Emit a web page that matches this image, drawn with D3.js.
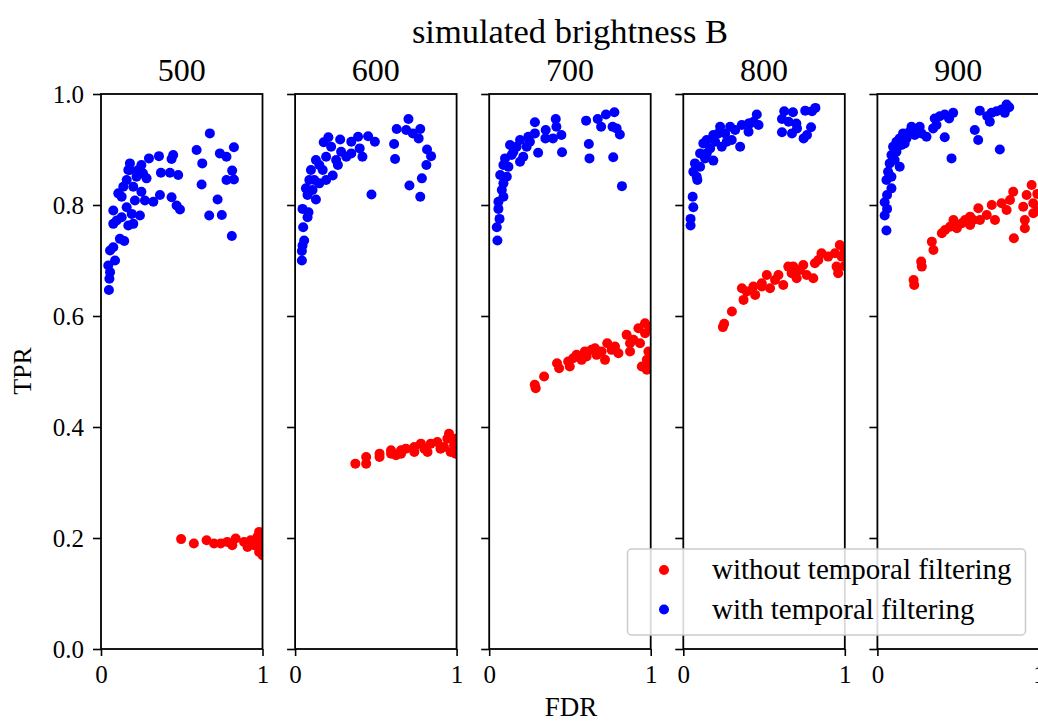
<!DOCTYPE html>
<html>
<head>
<meta charset="utf-8">
<script src="https://cdn.jsdelivr.net/npm/d3@7"></script>
<style>
  html, body { margin: 0; padding: 0; background: #fff; }
  svg { display: block; }
  text { font-family: "Palatino Linotype", "Book Antiqua", Palatino, "Liberation Serif", "DejaVu Serif", serif; fill: #000; }
</style>
</head>
<body>
<svg id="chart" width="1038" height="722"></svg>
<script>
// ---------------- DATA ----------------
const brightness = [500, 600, 700, 800, 900];
const seriesNames = ["without temporal filtering", "with temporal filtering"];
const yTicks = [0, 0.2, 0.4, 0.6, 0.8, 1.0];
const xTicks = [0, 1];

// [FDR, TPR] pairs, without temporal filtering
const without500 = [[0.496,0.198],[0.575,0.19],[0.654,0.196],[0.70,0.19],[0.741,0.19],[0.782,0.193],[0.813,0.187],[0.834,0.199],[0.886,0.193],[0.907,0.184],[0.927,0.196],[0.948,0.187],[0.96,0.193],[0.969,0.202],[0.979,0.211],[0.979,0.175],[0.99,0.193],[0.99,0.181],[1.0,0.205],[1.0,0.169]];
const without600 = [[0.373,0.334],[0.44,0.334],[0.44,0.346],[0.523,0.346],[0.523,0.352],[0.594,0.352],[0.594,0.358],[0.625,0.349],[0.656,0.358],[0.656,0.352],[0.686,0.361],[0.738,0.364],[0.738,0.355],[0.779,0.37],[0.80,0.361],[0.82,0.355],[0.84,0.37],[0.881,0.373],[0.90,0.361],[0.922,0.364],[0.943,0.379],[0.953,0.388],[0.963,0.355],[0.984,0.367],[0.994,0.352],[0.994,0.379]];
const without700 = [[0.282,0.476],[0.288,0.470],[0.34,0.491],[0.42,0.515],[0.433,0.506],[0.489,0.518],[0.499,0.509],[0.52,0.524],[0.541,0.53],[0.572,0.521],[0.592,0.536],[0.603,0.527],[0.634,0.539],[0.655,0.542],[0.665,0.53],[0.696,0.536],[0.717,0.521],[0.731,0.551],[0.758,0.539],[0.779,0.545],[0.8,0.533],[0.851,0.566],[0.872,0.551],[0.872,0.536],[0.893,0.557],[0.924,0.578],[0.934,0.551],[0.945,0.509],[0.965,0.587],[0.965,0.569],[0.976,0.503],[0.976,0.521],[0.986,0.536],[0.995,0.58],[0.998,0.51]];
const without800 = [[0.245,0.58],[0.253,0.586],[0.301,0.608],[0.363,0.65],[0.373,0.629],[0.393,0.644],[0.434,0.653],[0.445,0.638],[0.486,0.659],[0.486,0.653],[0.517,0.674],[0.537,0.65],[0.568,0.665],[0.589,0.674],[0.619,0.656],[0.65,0.689],[0.671,0.677],[0.681,0.689],[0.702,0.668],[0.723,0.683],[0.743,0.692],[0.764,0.674],[0.805,0.668],[0.815,0.695],[0.836,0.701],[0.856,0.713],[0.897,0.707],[0.939,0.713],[0.949,0.689],[0.959,0.677],[0.969,0.728],[0.98,0.707],[0.998,0.72],[0.998,0.69]];
const without900 = [[0.224,0.665],[0.228,0.656],[0.271,0.698],[0.275,0.689],[0.337,0.734],[0.347,0.719],[0.399,0.749],[0.419,0.755],[0.45,0.761],[0.471,0.773],[0.492,0.758],[0.523,0.767],[0.543,0.773],[0.574,0.779],[0.574,0.764],[0.594,0.773],[0.625,0.794],[0.635,0.773],[0.677,0.782],[0.708,0.8],[0.728,0.773],[0.769,0.803],[0.8,0.791],[0.821,0.809],[0.841,0.824],[0.845,0.74],[0.903,0.797],[0.913,0.773],[0.913,0.758],[0.924,0.818],[0.955,0.836],[0.965,0.803],[0.965,0.785],[0.99,0.82],[0.99,0.79]];

// [FDR, TPR] pairs, with temporal filtering
const with500 = [[0.674,0.929],[0.592,0.899],[0.627,0.875],[0.623,0.837],[0.736,0.893],[0.777,0.887],[0.823,0.904],[0.812,0.862],[0.823,0.846],[0.777,0.845],[0.722,0.81],[0.67,0.781],[0.748,0.782],[0.81,0.744],[0.447,0.89],[0.437,0.883],[0.359,0.888],[0.297,0.884],[0.371,0.858],[0.427,0.858],[0.478,0.854],[0.179,0.875],[0.25,0.872],[0.282,0.848],[0.22,0.851],[0.169,0.863],[0.25,0.824],[0.365,0.818],[0.437,0.814],[0.468,0.799],[0.489,0.792],[0.324,0.806],[0.272,0.808],[0.21,0.808],[0.138,0.833],[0.107,0.821],[0.076,0.79],[0.076,0.766],[0.128,0.778],[0.19,0.784],[0.241,0.781],[0.169,0.763],[0.117,0.739],[0.144,0.735],[0.076,0.724],[0.056,0.718],[0.087,0.7],[0.045,0.691],[0.056,0.679],[0.052,0.667],[0.049,0.647],[0.159,0.845],[0.2,0.833],[0.128,0.815],[0.159,0.796],[0.097,0.772],[0.2,0.766],[0.179,0.863],[0.23,0.863],[0.26,0.857]];
const with600 = [[0.702,0.955],[0.629,0.937],[0.688,0.935],[0.775,0.937],[0.729,0.929],[0.765,0.92],[0.613,0.91],[0.619,0.883],[0.817,0.9],[0.842,0.888],[0.813,0.872],[0.785,0.848],[0.708,0.835],[0.775,0.815],[0.473,0.819],[0.494,0.914],[0.452,0.924],[0.39,0.923],[0.348,0.914],[0.4,0.902],[0.417,0.887],[0.348,0.893],[0.279,0.918],[0.206,0.922],[0.177,0.913],[0.223,0.905],[0.285,0.896],[0.254,0.881],[0.192,0.887],[0.129,0.881],[0.15,0.872],[0.098,0.863],[0.171,0.863],[0.233,0.853],[0.192,0.845],[0.119,0.845],[0.067,0.83],[0.108,0.827],[0.077,0.818],[0.129,0.81],[0.046,0.793],[0.083,0.787],[0.077,0.778],[0.05,0.76],[0.056,0.736],[0.046,0.727],[0.042,0.717],[0.042,0.7],[0.15,0.839],[0.088,0.845],[0.265,0.872],[0.317,0.887]];
const with700 = [[0.775,0.967],[0.723,0.963],[0.672,0.955],[0.6,0.952],[0.693,0.941],[0.764,0.941],[0.789,0.938],[0.809,0.927],[0.617,0.91],[0.621,0.884],[0.768,0.886],[0.822,0.834],[0.451,0.895],[0.412,0.955],[0.416,0.941],[0.447,0.926],[0.395,0.92],[0.35,0.935],[0.348,0.92],[0.283,0.949],[0.283,0.929],[0.303,0.894],[0.242,0.923],[0.191,0.917],[0.129,0.908],[0.17,0.905],[0.232,0.905],[0.098,0.884],[0.139,0.89],[0.191,0.878],[0.211,0.887],[0.088,0.872],[0.068,0.854],[0.109,0.851],[0.088,0.839],[0.078,0.827],[0.088,0.815],[0.057,0.806],[0.057,0.793],[0.064,0.775],[0.047,0.76],[0.051,0.736],[0.15,0.896],[0.119,0.869],[0.252,0.914]];
const with800 = [[0.818,0.975],[0.797,0.969],[0.755,0.97],[0.679,0.967],[0.625,0.969],[0.611,0.955],[0.652,0.95],[0.7,0.947],[0.704,0.938],[0.791,0.94],[0.766,0.926],[0.745,0.92],[0.673,0.929],[0.611,0.931],[0.455,0.963],[0.466,0.944],[0.414,0.947],[0.404,0.932],[0.362,0.944],[0.352,0.905],[0.321,0.935],[0.29,0.941],[0.3,0.917],[0.259,0.929],[0.228,0.941],[0.217,0.929],[0.186,0.926],[0.197,0.914],[0.145,0.917],[0.124,0.911],[0.166,0.902],[0.104,0.893],[0.135,0.884],[0.186,0.88],[0.072,0.875],[0.104,0.869],[0.062,0.86],[0.083,0.851],[0.087,0.845],[0.058,0.815],[0.062,0.796],[0.045,0.775],[0.045,0.763],[0.269,0.914],[0.238,0.905],[0.145,0.893],[0.404,0.947],[0.435,0.95]];
const with900 = [[0.8,0.981],[0.816,0.976],[0.789,0.966],[0.769,0.972],[0.738,0.969],[0.707,0.966],[0.696,0.95],[0.68,0.96],[0.634,0.97],[0.603,0.935],[0.624,0.917],[0.758,0.9],[0.469,0.966],[0.444,0.956],[0.417,0.963],[0.386,0.96],[0.355,0.956],[0.366,0.944],[0.345,0.938],[0.417,0.922],[0.459,0.884],[0.304,0.923],[0.262,0.941],[0.273,0.929],[0.211,0.941],[0.231,0.926],[0.2,0.932],[0.159,0.929],[0.138,0.92],[0.118,0.914],[0.097,0.905],[0.149,0.908],[0.18,0.92],[0.087,0.89],[0.118,0.896],[0.076,0.875],[0.138,0.869],[0.107,0.881],[0.066,0.86],[0.087,0.851],[0.056,0.845],[0.087,0.83],[0.06,0.818],[0.045,0.805],[0.06,0.793],[0.045,0.781],[0.056,0.754],[0.242,0.935],[0.169,0.911]];

const withoutSets = [without500, without600, without700, without800, without900];
const withSets = [with500, with600, with700, with800, with900];
const colors = ["#ff0000", "#0000ff"];

// ---------------- LAYOUT ----------------
const svg = d3.select("#chart");
const panelLeft0 = 101, panelStep = 194.1, panelW = 161.5;
const plotTop = 94, plotBottom = 649;
const y = d3.scaleLinear().domain([0, 1]).range([plotBottom, plotTop]);

const defs = svg.append("defs");

brightness.forEach((b, i) => {
  const x0 = panelLeft0 + i * panelStep;
  const x = d3.scaleLinear().domain([0, 1]).range([0, panelW]);
  const g = svg.append("g").attr("transform", `translate(${x0},0)`);

  defs.append("clipPath").attr("id", "clip" + i)
    .append("rect").attr("x", 0).attr("y", plotTop).attr("width", panelW).attr("height", plotBottom - plotTop);

  const plot = g.append("g").attr("clip-path", `url(#clip${i})`);
  [withoutSets[i], withSets[i]].forEach((set, s) => {
    plot.append("g").selectAll("circle").data(set).join("circle")
      .attr("cx", d => x(d[0]))
      .attr("cy", d => y(d[1]))
      .attr("r", 5)
      .attr("fill", colors[s]);
  });

  // y axis
  const ya = g.append("g").call(
    d3.axisLeft(y).tickValues(yTicks).tickSize(8).tickPadding(9)
      .tickFormat(i === 0 ? d3.format(".1f") : () => "")
  );
  // x axis
  const xa = g.append("g").attr("transform", `translate(0,${plotBottom})`).call(
    d3.axisBottom(x).tickValues(xTicks).tickSize(7).tickPadding(9).tickFormat(d3.format("d"))
  );
  [ya, xa].forEach(a => {
    a.select(".domain").remove();
    a.selectAll(".tick line").attr("stroke", "#000").attr("stroke-width", 1.6);
    a.selectAll(".tick text").style("font-size", "25px").attr("fill", "#000")
      .style("font-family", '"Palatino Linotype","Book Antiqua",Palatino,"Liberation Serif",serif');
  });

  // frame
  g.append("rect").attr("x", 0).attr("y", plotTop).attr("width", panelW).attr("height", plotBottom - plotTop)
    .attr("fill", "none").attr("stroke", "#000").attr("stroke-width", 1.8);

  // panel title
  g.append("text").attr("x", panelW / 2).attr("y", 81).attr("text-anchor", "middle")
    .style("font-size", "32px").text(b);
});

// super title
svg.append("text").attr("x", 570).attr("y", 43).attr("text-anchor", "middle")
  .style("font-size", "34.5px").text("simulated brightness B");

// axis labels
svg.append("text").attr("x", 571).attr("y", 716).attr("text-anchor", "middle")
  .style("font-size", "27px").text("FDR");
svg.append("text").attr("transform", "translate(31,371) rotate(-90)").attr("text-anchor", "middle")
  .style("font-size", "26px").text("TPR");

// legend
const lg = svg.append("g");
lg.append("rect").attr("x", 627.5).attr("y", 549).attr("width", 398).attr("height", 86)
  .attr("rx", 4).attr("fill", "#fff").attr("fill-opacity", 0.85)
  .attr("stroke", "#cccccc").attr("stroke-width", 1.5);
seriesNames.forEach((name, s) => {
  const cy = 570 + s * 39.5;
  lg.append("circle").attr("cx", 664).attr("cy", cy).attr("r", 5).attr("fill", colors[s]);
  lg.append("text").attr("x", 712).attr("y", cy + 9).style("font-size", "29px").text(name);
});
</script>
</body>
</html>
